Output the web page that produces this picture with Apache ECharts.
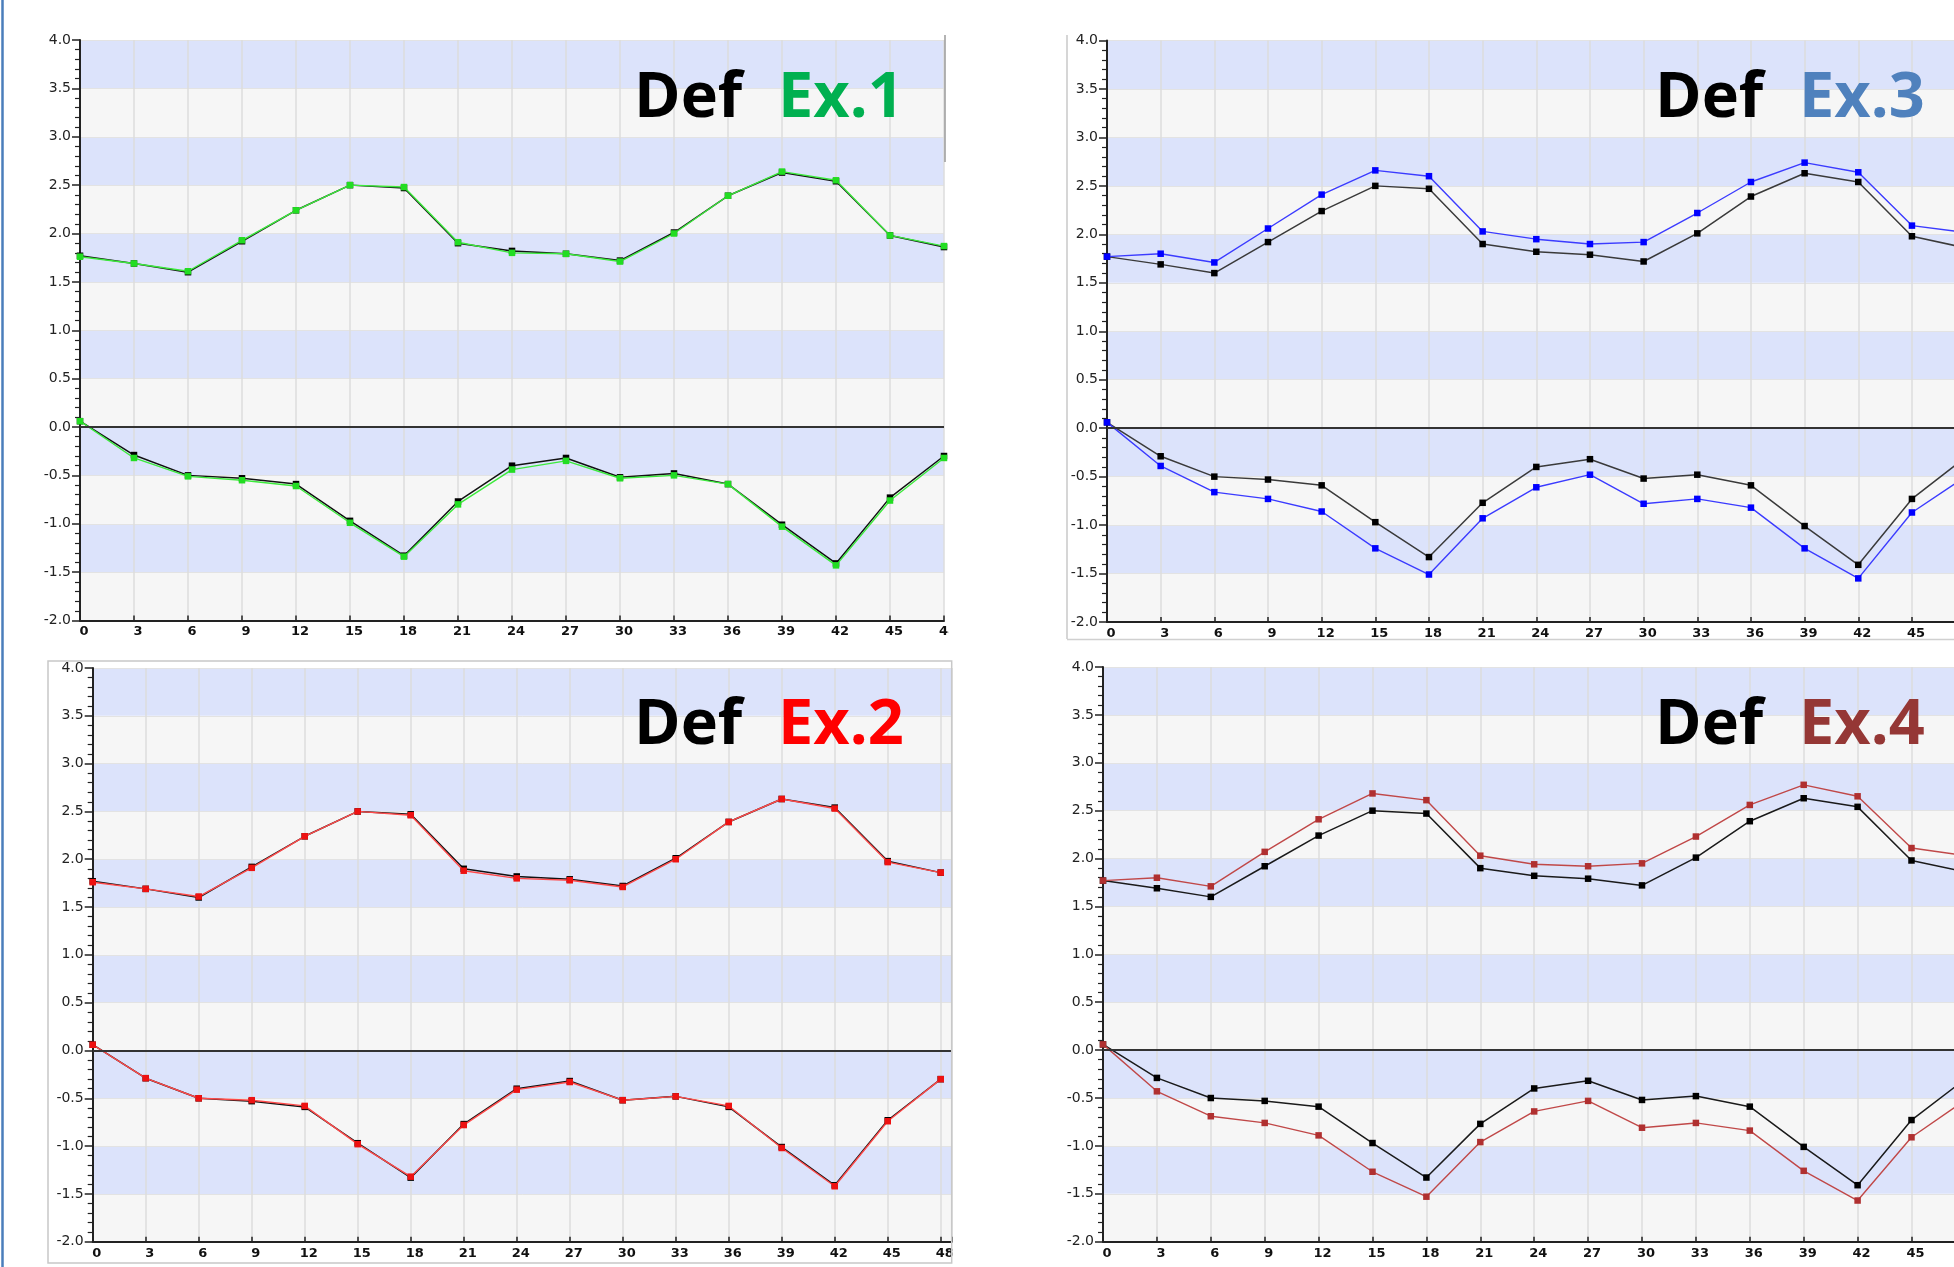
<!DOCTYPE html>
<html><head><meta charset="utf-8">
<script src="https://cdn.jsdelivr.net/npm/echarts@6/dist/echarts.min.js"></script>
<style>html,body{margin:0;padding:0;background:#fff}#c{width:1954px;height:1267px}</style>
</head><body><div id="c"></div>
<script>
const xs = [0,3,6,9,12,15,18,21,24,27,30,33,36,39,42,45,48];
const yTicks = [-2.0,-1.5,-1.0,-0.5,0.0,0.5,1.0,1.5,2.0,2.5,3.0,3.5,4.0];
const defUpper = [1.77,1.69,1.60,1.92,2.24,2.50,2.47,1.90,1.82,1.79,1.72,2.01,2.39,2.63,2.54,1.98,1.86];
const defLower = [0.06,-0.29,-0.50,-0.53,-0.59,-0.97,-1.33,-0.77,-0.40,-0.32,-0.52,-0.48,-0.59,-1.01,-1.41,-0.73,-0.30];
const ex1Upper = [1.76,1.69,1.61,1.93,2.24,2.50,2.48,1.91,1.80,1.79,1.71,2.00,2.39,2.64,2.55,1.98,1.87];
const ex1Lower = [0.06,-0.32,-0.51,-0.55,-0.61,-0.99,-1.34,-0.80,-0.44,-0.35,-0.53,-0.50,-0.59,-1.03,-1.43,-0.76,-0.32];
const ex2Upper = [1.76,1.69,1.61,1.91,2.24,2.50,2.46,1.88,1.80,1.78,1.71,2.00,2.39,2.63,2.53,1.97,1.86];
const ex2Lower = [0.06,-0.29,-0.50,-0.52,-0.58,-0.98,-1.32,-0.78,-0.41,-0.33,-0.52,-0.48,-0.58,-1.02,-1.42,-0.74,-0.30];
const ex3Upper = [1.77,1.80,1.71,2.06,2.41,2.66,2.60,2.03,1.95,1.90,1.92,2.22,2.54,2.74,2.64,2.09,2.02];
const ex3Lower = [0.06,-0.39,-0.66,-0.73,-0.86,-1.24,-1.51,-0.93,-0.61,-0.48,-0.78,-0.73,-0.82,-1.24,-1.55,-0.87,-0.50];
const ex4Upper = [1.77,1.80,1.71,2.07,2.41,2.68,2.61,2.03,1.94,1.92,1.95,2.23,2.56,2.77,2.65,2.11,2.03];
const ex4Lower = [0.06,-0.43,-0.69,-0.76,-0.89,-1.27,-1.53,-0.96,-0.64,-0.53,-0.81,-0.76,-0.84,-1.26,-1.57,-0.91,-0.52];
const panelLabels = ['Ex.1','Ex.3','Ex.2','Ex.4'];
const defLabel = 'Def';

const panels = [
  {grid:{left:80,top:40,width:864,height:580.5}, xmax:48, ex:[ex1Upper,ex1Lower], line:'#3cea3c', mark:'#22dd22', text:'#00b050', defLine:'#111', tx:[634,778], ty:116},
  {grid:{left:1107,top:40.5,width:858.6,height:581.5}, xmax:48, ex:[ex3Upper,ex3Lower], line:'#3b3bff', mark:'#0000ff', text:'#4f81bd', defLine:'#3a3a3a', tx:[1655,1799], ty:116},
  {grid:{left:92.7,top:668,width:859,height:573.7}, xmax:48.62, ex:[ex2Upper,ex2Lower], line:'#ff4a4a', mark:'#ee1111', text:'#ff0000', defLine:'#111', tx:[634,778], ty:743},
  {grid:{left:1103,top:667,width:862.4,height:574.7}, xmax:48, ex:[ex4Upper,ex4Lower], line:'#c04848', mark:'#b03030', text:'#953735', defLine:'#1a1a1a', tx:[1655,1799], ty:743}
];

const pairs = arr => xs.map((x,i)=>[x,arr[i]]);
const grid=[], xAxis=[], yAxis=[], series=[], graphic=[];
panels.forEach((p,k)=>{
  grid.push(Object.assign({containLabel:false, outerBoundsMode:'none', show:false}, p.grid));
  xAxis.push({type:'value', gridIndex:k, min:0, max:p.xmax, interval:3,
    axisLine:{show:true, onZero:false, lineStyle:{color:'#222', width:2}},
    axisTick:{show:true, inside:true, length:5, lineStyle:{color:'#222', width:1.5}},
    axisLabel:{show:true, margin:5, padding:[0,0,0,8], color:'#111', fontFamily:'DejaVu Sans', fontWeight:'bold', fontSize:13,
      formatter:v=> (xs.indexOf(v)>=0 ? String(v) : '')},
    splitLine:{show:true, lineStyle:{color:'#dcdcdc', width:1.5}}
  });
  yAxis.push({type:'value', gridIndex:k, min:-2, max:4, interval:0.5,
    axisLine:{show:true, onZero:false, lineStyle:{color:'#222', width:2}},
    axisTick:{show:true, inside:false, length:8, lineStyle:{color:'#222', width:1.5}},
    minorTick:{show:true, splitNumber:5, length:5, lineStyle:{color:'#222', width:1.2}},
    axisLabel:{show:true, margin:9, color:'#222', fontFamily:'DejaVu Sans', fontSize:14,
      formatter:v=> (yTicks.indexOf(+v.toFixed(1))>=0 ? v.toFixed(1) : '')},
    splitLine:{show:true, lineStyle:{color:'#e3e3e3', width:1}},
    splitArea:{show:true, areaStyle:{color:['#f6f6f6','#dce3fb']}}
  });
  const base = {type:'line', xAxisIndex:k, yAxisIndex:k, symbol:'rect', symbolSize:6.5, animation:false, silent:true};
  series.push(Object.assign({}, base, {name:'Def', data:pairs(defUpper), lineStyle:{color:p.defLine, width:1.5}, itemStyle:{color:'#000'}, z:3,
    markLine:{silent:true, symbol:'none', label:{show:false}, lineStyle:{color:'#333', width:2, type:'solid'}, data:[{yAxis:0}], animation:false}}));
  series.push(Object.assign({}, base, {name:'Def', data:pairs(defLower), lineStyle:{color:p.defLine, width:1.5}, itemStyle:{color:'#000'}, z:3}));
  series.push(Object.assign({}, base, {name:panelLabels[k], data:pairs(p.ex[0]), lineStyle:{color:p.line, width:1.4}, itemStyle:{color:p.mark}, z:4}));
  series.push(Object.assign({}, base, {name:panelLabels[k], data:pairs(p.ex[1]), lineStyle:{color:p.line, width:1.4}, itemStyle:{color:p.mark}, z:4}));
  graphic.push({type:'text', left:p.tx[0], top:p.ty-48, z:100, style:{text:defLabel, fill:'#000', font:'bold 63px "Open Sans"'}});
  graphic.push({type:'text', left:p.tx[1], top:p.ty-48, z:100, style:{text:panelLabels[k], fill:p.text, font:'bold 63px "Open Sans"'}});
});
// frames and cover-ups
graphic.push({type:'line', z:90, shape:{x1:2.5,y1:0,x2:2.5,y2:1267}, style:{stroke:'#4a7ebb', lineWidth:2.5}});
graphic.push({type:'line', z:90, shape:{x1:945,y1:35,x2:945,y2:162}, style:{stroke:'#9a9a9a', lineWidth:1.5}});
graphic.push({type:'rect', z:95, shape:{x:949,y:624,width:60,height:20}, style:{fill:'#fff'}});
graphic.push({type:'rect', z:95, shape:{x:952.5,y:1243,width:60,height:19}, style:{fill:'#fff'}});
graphic.push({type:'rect', z:96, shape:{x:48,y:661,width:903.7,height:602}, style:{fill:'none', stroke:'#c8c8c8', lineWidth:1.5}});
graphic.push({type:'line', z:90, shape:{x1:1067,y1:35,x2:1067,y2:639}, style:{stroke:'#c8c8c8', lineWidth:1.5}});
graphic.push({type:'line', z:90, shape:{x1:1067,y1:639.5,x2:1954,y2:639.5}, style:{stroke:'#d0d0d0', lineWidth:1.5}});

const chart = echarts.init(document.getElementById('c'), null, {renderer:'canvas'});
chart.setOption({animation:false, backgroundColor:'#fff', grid, xAxis, yAxis, series, graphic});
</script></body></html>
